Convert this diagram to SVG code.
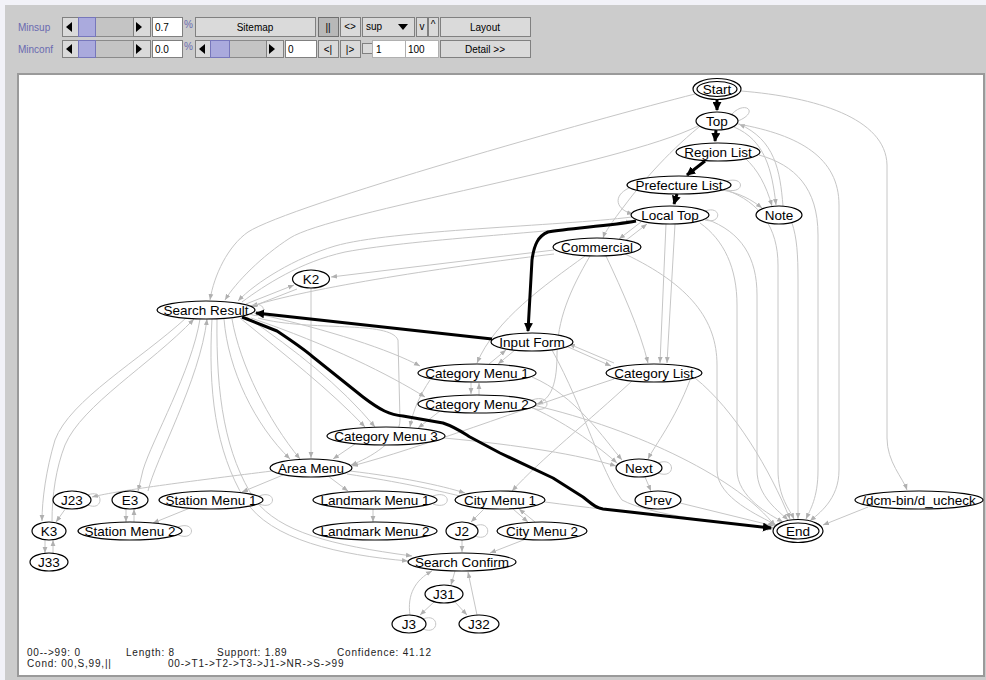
<svg xmlns="http://www.w3.org/2000/svg" width="986" height="680" viewBox="0 0 986 680">
<defs>
<marker id="ag" viewBox="0 0 10 10" refX="10" refY="5" markerWidth="6" markerHeight="6" markerUnits="userSpaceOnUse" orient="auto"><path d="M0,1 L10,5 L0,9 z" fill="#b0b0b0"/></marker>
<marker id="ab" viewBox="0 0 10 10" refX="9" refY="5" markerWidth="9" markerHeight="9" markerUnits="userSpaceOnUse" orient="auto"><path d="M0,0 L10,5 L0,10 z" fill="#000"/></marker>
</defs>
<style>
.e{fill:none;stroke:#c6c6c6;stroke-width:1}
.a{marker-end:url(#ag)}
.b{fill:none;stroke:#000;stroke-width:3;marker-end:url(#ab);stroke-linejoin:round}
.n ellipse{fill:#fff;stroke:#000;stroke-width:1.2}
.n text{font-family:"Liberation Sans",Arial,sans-serif;font-size:13.5px;text-anchor:middle;fill:#000}
.t{font-family:"Liberation Sans",Arial,sans-serif;font-size:10px;fill:#000}
.lbl{font-family:"Liberation Sans",Arial,sans-serif;font-size:10px;fill:#6a6ab0}
.btn{fill:#dadada;stroke:#808080;stroke-width:1}
.trk{fill:#c4c4c4;stroke:#8a8a8a;stroke-width:1}
.thm{fill:#aaaadd;stroke:#7777bb;stroke-width:1}
.fld{fill:#fff;stroke:#808080;stroke-width:1}
.bt{font-family:"Liberation Sans",Arial,sans-serif;font-size:10px;text-anchor:middle;fill:#000}
.st{font-family:"Liberation Sans",Arial,sans-serif;font-size:10px;fill:#222;letter-spacing:0.8px}
</style>
<rect x="0" y="0" width="986" height="680" fill="#f2f2f8"/>
<rect x="5" y="5" width="981" height="675" fill="#cccccc"/>
<g id="toolbar">
<text class="lbl" x="18" y="31">Minsup</text>
<rect class="trk" x="62.5" y="17.5" width="88" height="19"/>
<rect class="btn" x="62.5" y="17.5" width="16" height="19"/>
<polygon points="66,27 72,22 72,32" fill="#000"/>
<rect class="thm" x="78.5" y="17.5" width="17" height="19"/>
<rect class="btn" x="133.5" y="17.5" width="17" height="19"/>
<polygon points="136,22 136,32 142,27" fill="#000"/>
<rect class="fld" x="152.5" y="17.5" width="30" height="19"/>
<text class="t" x="155" y="31" font-size="11">0.7</text>
<text class="lbl" x="184" y="28" font-size="9">%</text>
<rect class="btn" x="195.5" y="17.5" width="120" height="19"/>
<text class="bt" x="255" y="31">Sitemap</text>
<rect x="318.5" y="17.5" width="20" height="19" fill="#b8b8b8" stroke="#707070"/>
<text class="bt" x="328" y="31">||</text>
<rect class="btn" x="340.5" y="17.5" width="20" height="19"/>
<text class="bt" x="350" y="30" font-size="9">&lt;&gt;</text>
<rect class="btn" x="362.5" y="17.5" width="52" height="19"/>
<text class="t" x="366" y="30" font-size="9">sup</text>
<polygon points="398,24 408,24 403,30" fill="#000"/>
<rect class="btn" x="416.5" y="17.5" width="11" height="19"/>
<text class="bt" x="422" y="30" font-size="9">v</text>
<rect class="btn" x="428.5" y="17.5" width="10" height="19"/>
<text class="bt" x="433" y="28" font-size="9">^</text>
<rect class="btn" x="440.5" y="17.5" width="90" height="19"/>
<text class="bt" x="485" y="31">Layout</text>
<text class="lbl" x="18" y="53">Minconf</text>
<rect class="trk" x="62.5" y="40.5" width="88" height="17"/>
<rect class="btn" x="62.5" y="40.5" width="16" height="17"/>
<polygon points="66,49 72,44 72,54" fill="#000"/>
<rect class="thm" x="78.5" y="40.5" width="17" height="17"/>
<rect class="btn" x="133.5" y="40.5" width="17" height="17"/>
<polygon points="136,44 136,54 142,49" fill="#000"/>
<rect class="fld" x="152.5" y="40.5" width="30" height="17"/>
<text class="t" x="155" y="53" font-size="11">0.0</text>
<text class="lbl" x="184" y="50" font-size="9">%</text>
<rect class="trk" x="195.5" y="40.5" width="88" height="17"/>
<rect class="btn" x="195.5" y="40.5" width="15" height="17"/>
<polygon points="199,49 205,44 205,54" fill="#000"/>
<rect class="thm" x="210.5" y="40.5" width="19" height="17"/>
<rect class="btn" x="266.5" y="40.5" width="17" height="17"/>
<polygon points="269,44 269,54 275,49" fill="#000"/>
<rect class="fld" x="285.5" y="40.5" width="31" height="17"/>
<text class="t" x="288" y="53" font-size="11">0</text>
<rect class="btn" x="318.5" y="40.5" width="20" height="17"/>
<text class="bt" x="328" y="53" font-size="9">&lt;|</text>
<rect class="btn" x="340.5" y="40.5" width="20" height="17"/>
<text class="bt" x="350" y="53" font-size="9">|&gt;</text>
<rect x="362.5" y="43.5" width="10" height="10" fill="#dadada" stroke="#808080"/>
<rect x="372.5" y="40.5" width="33" height="17" fill="#fff" stroke="#b0b0b0"/>
<text class="t" x="376" y="53" font-size="11" fill="#a0a0a0">1</text>
<rect x="405.5" y="40.5" width="33" height="17" fill="#fff" stroke="#b0b0b0"/>
<text class="t" x="408" y="53" font-size="11" fill="#a0a0a0">100</text>
<rect class="btn" x="440.5" y="40.5" width="90" height="17"/>
<text class="bt" x="485" y="53">Detail &gt;&gt;</text>
</g>
<rect x="18" y="74" width="966" height="602" fill="#fff" stroke="#9a9a9a" stroke-width="2"/>
<g id="connectors">
<path class="e a" d="M695,94 C600,118 290,205 248,232 C228,246 214,275 210,300"/>
<path class="e a" d="M741,91 C815,97 886,118 887,165 L887,438 C887,462 903,478 907,490"/>
<path class="e a" d="M698,126 C620,165 330,212 290,238 C262,256 236,282 225,300"/>
<path class="e a" d="M632,217 C560,226 390,230 335,246 C295,258 256,282 238,301"/>
<path class="e a" d="M242,302 C265,285 300,262 345,252 C420,238 570,232 632,221"/>
<path class="e a" d="M554,254 C470,264 320,285 252,306"/>
<path class="e a" d="M554,250 L331,277"/>
<path class="e a" d="M246,304 L294,285"/>
<path class="e a" d="M297,289 L251,307"/>
<path class="e a" d="M311,288 L311,458"/>
<path class="e a" d="M734,127 C765,140 772,170 776,205"/>
<path class="e a" d="M783,206 C780,170 775,140 739,124"/>
<path class="e a" d="M722,190 C740,193 752,200 762,208"/>
<path class="e a" d="M745,158 C758,170 766,185 772,206"/>
<path class="e a" d="M738,124 C800,135 839,158 839,205 L839,470 C839,500 818,514 810,521"/>
<path class="e a" d="M759,155 C795,165 818,188 818,235 L818,470 C818,498 810,510 806,519"/>
<path class="e a" d="M792,223 C797,238 798,255 798,280 L798,519"/>
<path class="e a" d="M726,190 C760,202 778,228 778,265 L778,470 C778,497 790,510 794,519"/>
<path class="e a" d="M706,219 C742,232 757,258 757,295 L757,470 C757,497 780,512 788,520"/>
<path class="e a" d="M700,223 C724,240 737,268 737,305 L737,470 C737,497 770,515 783,522"/>
<path class="e a" d="M625,254 C690,285 717,320 717,365 L717,470 C717,498 760,516 776,525"/>
<path class="e a" d="M641,222 L619,239"/>
<path class="e a" d="M625,241 L647,224"/>
<path class="e a" d="M666,224 L660,363"/>
<path class="e a" d="M675,224 L667,363"/>
<path class="e a" d="M606,256 C622,290 640,330 648,363"/>
<path class="e a" d="M585,256 C545,285 495,320 477,363"/>
<path class="e a" d="M699,127 C665,155 640,185 625,205 C612,222 605,232 603,238"/>
<path class="e a" d="M590,256 C570,290 557,320 557,355 C557,390 548,400 537,404"/>
<path class="e a" d="M515,350 L498,364"/>
<path class="e a" d="M489,364 L506,350"/>
<path class="e a" d="M566,346 L611,366"/>
<path class="e a" d="M614,363 L569,344"/>
<path class="e a" d="M471,382 L471,394"/>
<path class="e a" d="M479,395 L479,383"/>
<path class="e a" d="M632,381 C590,420 540,460 512,491"/>
<path class="e a" d="M614,379 C520,410 420,448 352,466"/>
<path class="e a" d="M690,380 C675,420 655,445 648,459"/>
<path class="e a" d="M695,378 C735,410 770,470 790,519"/>
<path class="e a" d="M532,377 C575,395 605,440 622,460"/>
<path class="e a" d="M533,408 C570,425 600,448 617,463"/>
<path class="e a" d="M533,405 C640,430 740,480 775,526"/>
<path class="e a" d="M444,438 C520,445 580,455 616,466"/>
<path class="e a" d="M430,380 C420,395 413,410 410,427"/>
<path class="e a" d="M440,411 L418,428"/>
<path class="e a" d="M355,444 L333,459"/>
<path class="e a" d="M240,318 C285,355 330,390 365,427"/>
<path class="e a" d="M247,317 C295,350 340,385 375,427"/>
<path class="e a" d="M254,313 C330,330 390,350 420,366"/>
<path class="e a" d="M251,318 C330,345 390,375 425,397"/>
<path class="e a" d="M258,318 C310,332 390,320 398,340 L400,420 C400,440 370,458 351,465"/>
<path class="e a" d="M186,318 C140,360 70,400 55,440 C46,470 42,500 42,521"/>
<path class="e a" d="M52,521 C52,495 56,468 65,445 C82,405 150,365 194,319"/>
<path class="e a" d="M200,319 C192,370 152,440 143,470 L138,491"/>
<path class="e a" d="M148,491 C155,460 200,380 207,319"/>
<path class="e a" d="M224,319 C228,370 255,425 290,459"/>
<path class="e a" d="M232,319 C240,365 268,420 300,459"/>
<path class="e a" d="M212,319 C208,390 215,450 245,500 C270,540 340,555 408,561"/>
<path class="e a" d="M217,319 C216,395 225,455 255,500 C280,532 330,545 412,556"/>
<path class="e a" d="M272,471 C200,480 120,490 92,497"/>
<path class="e a" d="M66,508 L56,522"/>
<path class="e a" d="M283,475 L242,492"/>
<path class="e a" d="M190,508 L153,523"/>
<path class="e a" d="M126,509 L126,522"/>
<path class="e a" d="M134,522 L134,509"/>
<path class="e a" d="M45,540 L45,553"/>
<path class="e a" d="M53,553 L53,540"/>
<path class="e a" d="M328,476 L348,491"/>
<path class="e a" d="M350,471 C400,477 440,485 465,493"/>
<path class="e" d="M347,474 C400,482 435,490 460,496"/>
<path class="e a" d="M373,509 L373,522"/>
<path class="e a" d="M485,508 L471,522"/>
<path class="e a" d="M513,509 L528,522"/>
<path class="e a" d="M535,522 L519,509"/>
<path class="e a" d="M462,540 L462,552"/>
<path class="e a" d="M526,539 L490,553"/>
<path class="e a" d="M455,571 L451,585"/>
<path class="e a" d="M434,602 L420,615"/>
<path class="e a" d="M455,602 L467,615"/>
<path class="e a" d="M477,615 L468,572"/>
<path class="e a" d="M410,615 C407,595 415,580 432,571"/>
<path class="e a" d="M545,502 C620,512 720,522 773,529"/>
<path class="e a" d="M680,503 L774,526"/>
<path class="e a" d="M645,477 L651,491"/>
<path class="e a" d="M868,507 L823,525"/>
<path class="e a" d="M552,350 C585,410 600,470 622,500 C650,515 720,523 774,528"/>
<path class="e a" d="M629,188 C612,196 616,210 633,214"/>
<path class="e" d="M732,114 C745,100 760,112 738,121"/>
<path class="e" d="M727,181 C745,176 745,194 727,190"/>
<path class="e" d="M705,211 C722,205 722,225 705,220"/>
<path class="e" d="M250,306 C268,298 268,322 250,314"/>
<path class="e" d="M532,400 C552,393 552,415 532,408"/>
<path class="e" d="M658,463 C676,456 676,480 658,473"/>
<path class="e" d="M88,495 C104,488 104,512 88,505"/>
<path class="e" d="M259,496 C277,489 277,511 259,504"/>
<path class="e" d="M178,527 C196,520 196,542 178,535"/>
<path class="e" d="M433,496 C452,489 452,511 433,504"/>
<path class="e" d="M475,526 C492,519 492,543 475,536"/>
<path class="e" d="M423,619 C440,612 440,636 423,629"/>
<path class="b" stroke-width="4" d="M717,99 L717,110"/>
<path class="b" stroke-width="4" d="M716,130 L715,141"/>
<path class="b" stroke-width="4" d="M705,161 L687,175"/>
<path class="b" stroke-width="4" d="M677,194 L674,204"/>
<path class="b" d="M636,221 C610,226 570,228 548,232 C538,236 534,245 532,260 L528,331"/>
<path class="b" stroke-width="2.5" d="M492,339 L256,313"/>
<path class="b" d="M242,317 L277,331 C295,343 305,350 313,357 L363,397 C380,410 390,415 403,416 L443,423 C455,427 462,432 470,437 L500,453 L553,478 L583,497 C592,504 596,508 603,509 L630,512 L771,528"/>
</g>
<g id="n-start" class="n"><ellipse cx="717" cy="89" rx="24" ry="10.5"/><ellipse cx="717" cy="89" rx="20" ry="7.5"/><text x="717" y="93.5">Start</text></g>
<g id="n-top" class="n"><ellipse cx="717" cy="121" rx="21" ry="9"/><text x="717" y="125.5">Top</text></g>
<g id="n-region-list" class="n"><ellipse cx="718" cy="152" rx="42" ry="9"/><text x="718" y="156.5">Region List</text></g>
<g id="n-prefecture-list" class="n"><ellipse cx="679" cy="185" rx="52" ry="9"/><text x="679" y="189.5">Prefecture List</text></g>
<g id="n-local-top" class="n"><ellipse cx="670" cy="215" rx="39" ry="9"/><text x="670" y="219.5">Local Top</text></g>
<g id="n-note" class="n"><ellipse cx="779" cy="215" rx="23" ry="9"/><text x="779" y="219.5">Note</text></g>
<g id="n-commercial" class="n"><ellipse cx="597" cy="247" rx="44" ry="9"/><text x="597" y="251.5">Commercial</text></g>
<g id="n-k2" class="n"><ellipse cx="311" cy="279" rx="18.5" ry="9"/><text x="311" y="283.5">K2</text></g>
<g id="n-search-result" class="n"><ellipse cx="206" cy="310" rx="49" ry="9"/><text x="206" y="314.5">Search Result</text></g>
<g id="n-input-form" class="n"><ellipse cx="532" cy="342" rx="41" ry="9"/><text x="532" y="346.5">Input Form</text></g>
<g id="n-category-menu-1" class="n"><ellipse cx="477" cy="373" rx="59" ry="9"/><text x="477" y="377.5">Category Menu 1</text></g>
<g id="n-category-list" class="n"><ellipse cx="654" cy="373" rx="48" ry="9"/><text x="654" y="377.5">Category List</text></g>
<g id="n-category-menu-2" class="n"><ellipse cx="477" cy="404" rx="59" ry="9"/><text x="477" y="408.5">Category Menu 2</text></g>
<g id="n-category-menu-3" class="n"><ellipse cx="386" cy="436" rx="59" ry="9"/><text x="386" y="440.5">Category Menu 3</text></g>
<g id="n-area-menu" class="n"><ellipse cx="311" cy="468" rx="41" ry="9"/><text x="311" y="472.5">Area Menu</text></g>
<g id="n-next" class="n"><ellipse cx="639" cy="468" rx="23" ry="9"/><text x="639" y="472.5">Next</text></g>
<g id="n-j23" class="n"><ellipse cx="72" cy="500" rx="19" ry="9"/><text x="72" y="504.5">J23</text></g>
<g id="n-e3" class="n"><ellipse cx="130" cy="500" rx="18" ry="9"/><text x="130" y="504.5">E3</text></g>
<g id="n-station-menu-1" class="n"><ellipse cx="211" cy="500" rx="52" ry="9"/><text x="211" y="504.5">Station Menu 1</text></g>
<g id="n-landmark-menu-1" class="n"><ellipse cx="375" cy="500" rx="62" ry="9"/><text x="375" y="504.5">Landmark Menu 1</text></g>
<g id="n-city-menu-1" class="n"><ellipse cx="500" cy="500" rx="45" ry="9"/><text x="500" y="504.5">City Menu 1</text></g>
<g id="n-prev" class="n"><ellipse cx="658" cy="500" rx="23" ry="9"/><text x="658" y="504.5">Prev</text></g>
<g id="n-dcm" class="n"><ellipse cx="919" cy="500" rx="64" ry="9"/><text x="919" y="504.5">/dcm-bin/d_ucheck</text></g>
<g id="n-k3" class="n"><ellipse cx="49" cy="531" rx="17" ry="9"/><text x="49" y="535.5">K3</text></g>
<g id="n-station-menu-2" class="n"><ellipse cx="130" cy="531" rx="52" ry="9"/><text x="130" y="535.5">Station Menu 2</text></g>
<g id="n-landmark-menu-2" class="n"><ellipse cx="375" cy="531" rx="62" ry="9"/><text x="375" y="535.5">Landmark Menu 2</text></g>
<g id="n-j2" class="n"><ellipse cx="462" cy="531" rx="16" ry="9"/><text x="462" y="535.5">J2</text></g>
<g id="n-city-menu-2" class="n"><ellipse cx="542" cy="531" rx="45" ry="9"/><text x="542" y="535.5">City Menu 2</text></g>
<g id="n-end" class="n"><ellipse cx="798" cy="531" rx="25" ry="11.5"/><ellipse cx="798" cy="531" rx="21" ry="8"/><text x="798" y="535.5">End</text></g>
<g id="n-j33" class="n"><ellipse cx="49" cy="562" rx="19" ry="9"/><text x="49" y="566.5">J33</text></g>
<g id="n-search-confirm" class="n"><ellipse cx="462" cy="562" rx="54" ry="9"/><text x="462" y="566.5">Search Confirm</text></g>
<g id="n-j31" class="n"><ellipse cx="444" cy="594" rx="19" ry="9"/><text x="444" y="598.5">J31</text></g>
<g id="n-j3" class="n"><ellipse cx="409" cy="624" rx="17" ry="9"/><text x="409" y="628.5">J3</text></g>
<g id="n-j32" class="n"><ellipse cx="479" cy="624" rx="20" ry="9"/><text x="479" y="628.5">J32</text></g>
<g id="status">
<text class="st" x="27" y="655.5">00--&gt;99: 0</text>
<text class="st" x="126" y="655.5">Length: 8</text>
<text class="st" x="217" y="655.5">Support: 1.89</text>
<text class="st" x="337" y="655.5">Confidence: 41.12</text>
<text class="st" x="27" y="667">Cond: 00,S,99,||</text>
<text class="st" x="168" y="667">00-&gt;T1-&gt;T2-&gt;T3-&gt;J1-&gt;NR-&gt;S-&gt;99</text>
</g>
</svg>
